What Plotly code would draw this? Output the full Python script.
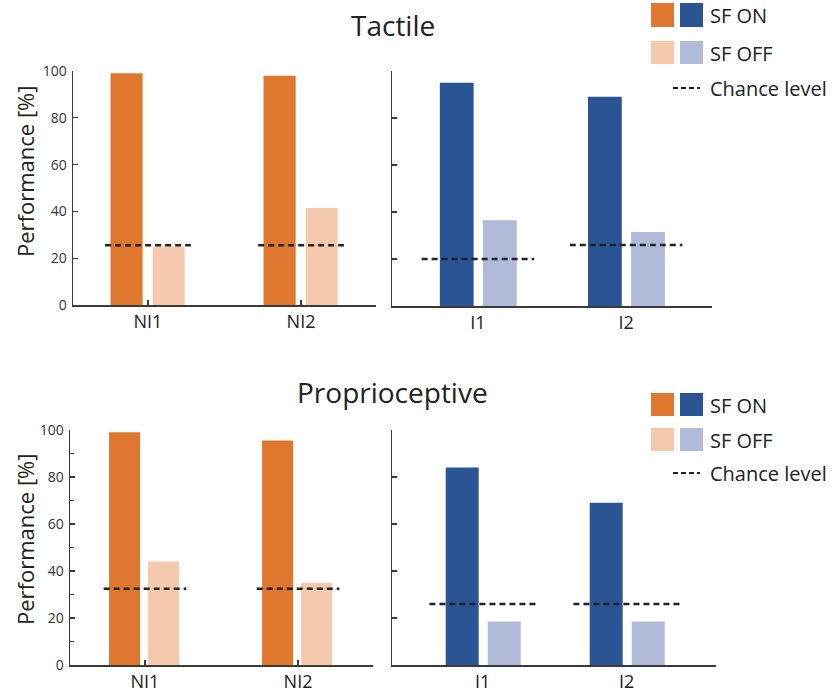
import plotly.graph_objects as go

W, H = 832, 695

# ---------------- data ----------------
left_categories = ["NI1", "NI2"]
right_categories = ["I1", "I2"]

tactile_left_on = [99, 98]
tactile_left_off = [25, 41.5]
tactile_left_chance = [25.5, 25.5]
tactile_right_on = [95, 89]
tactile_right_off = [36.5, 31.5]
tactile_right_chance = [20, 26]

prop_left_on = [99, 95.5]
prop_left_off = [44, 35]
prop_left_chance = [32.5, 32.5]
prop_right_on = [84, 69]
prop_right_off = [18.5, 18.5]
prop_right_chance = [26, 26]

y_tickvals = [0, 20, 40, 60, 80, 100]
panel_titles = ["Tactile", "Proprioceptive"]
y_title = "Performance [%]"
legend_labels = ["SF ON", "SF OFF", "Chance level"]

# ---------------- styles ----------------
ORANGE = "#E0772F"
ORANGE_L = "#F5C9AE"
BLUE = "#2B5494"
BLUE_L = "#AFBBD8"
AXIS = "#3a3a3a"
TXT = "#222222"
FONT = "Open Sans"


def px_x(x):
    return x / W


def px_y(y):
    return 1 - y / H


panels = [
    dict(cats=left_categories, on=tactile_left_on, off=tactile_left_off, chance=tactile_left_chance,
         xd=(73, 376), yd=(71, 305), xr=(-0.49, 1.49), c_on=ORANGE, c_off=ORANGE_L,
         width=0.21, off_on=-0.245, off_off=0.03, half=0.28, labels=True, minor=False),
    dict(cats=right_categories, on=tactile_right_on, off=tactile_right_off, chance=tactile_right_chance,
         xd=(392, 712), yd=(71, 306), xr=(-0.58, 1.58), c_on=BLUE, c_off=BLUE_L,
         width=0.228, off_on=-0.257, off_off=0.034, half=0.38, labels=False, minor=False),
    dict(cats=left_categories, on=prop_left_on, off=prop_left_off, chance=prop_left_chance,
         xd=(70, 373), yd=(430, 665), xr=(-0.49, 1.49), c_on=ORANGE, c_off=ORANGE_L,
         width=0.203, off_on=-0.235, off_off=0.02, half=0.27, labels=True, minor=True),
    dict(cats=right_categories, on=prop_right_on, off=prop_right_off, chance=prop_right_chance,
         xd=(392, 716), yd=(430, 665), xr=(-0.63, 1.62), c_on=BLUE, c_off=BLUE_L,
         width=0.229, off_on=-0.257, off_off=0.035, half=0.37, labels=False, minor=False),
]

fig = go.Figure()
layout = dict(
    template="none",
    width=W, height=H, margin=dict(l=0, r=0, t=0, b=0, pad=0, autoexpand=False),
    paper_bgcolor="white", plot_bgcolor="white",
    showlegend=False, barmode="overlay",
    font=dict(family=FONT, color=TXT),
)
shapes = []
annotations = []

for i, p in enumerate(panels):
    n = "" if i == 0 else str(i + 1)
    xa, ya = "x" + n, "y" + n
    fig.add_trace(go.Bar(x=p["cats"], y=p["on"], xaxis=xa, yaxis=ya, width=p["width"],
                         offset=p["off_on"], marker=dict(color=p["c_on"], line=dict(width=0))))
    fig.add_trace(go.Bar(x=p["cats"], y=p["off"], xaxis=xa, yaxis=ya, width=p["width"],
                         offset=p["off_off"], marker=dict(color=p["c_off"], line=dict(width=0))))
    layout["xaxis" + n] = dict(
        domain=[px_x(p["xd"][0]), px_x(p["xd"][1])], anchor=ya, type="category",
        range=list(p["xr"]), showline=True, linecolor=AXIS, linewidth=1.5,
        ticks="inside" if p["labels"] else "", ticklen=5, tickwidth=1.5, tickcolor=AXIS,
        showgrid=False, zeroline=False, tickfont=dict(size=18, color=TXT, family=FONT),
        ticklabelstandoff=0, automargin=False, fixedrange=True,
    )
    ydef = dict(
        domain=[px_y(p["yd"][1]), px_y(p["yd"][0])], anchor=xa, range=[0, 100],
        tickvals=y_tickvals, showline=True, linecolor=AXIS, linewidth=1.5,
        ticks="inside", ticklen=5, tickwidth=1.2, tickcolor=AXIS,
        showticklabels=p["labels"], showgrid=False, zeroline=False,
        tickfont=dict(size=14, color="#333", family=FONT), ticklabelstandoff=2,
        automargin=False, fixedrange=True,
    )
    if p["minor"]:
        ydef["minor"] = dict(ticks="inside", dtick=10, ticklen=4, tickwidth=1.2, tickcolor=AXIS, showgrid=False)
    layout["yaxis" + n] = ydef
    for k, c in enumerate(p["chance"]):
        shapes.append(dict(type="line", xref=xa, yref=ya, x0=k - p["half"], x1=k + p["half"],
                           y0=c, y1=c, line=dict(color=TXT, width=2.5, dash="6px,4px")))


def note(text, x, y, size, **kw):
    d = dict(text=text, x=px_x(x), y=px_y(y), xref="paper", yref="paper", showarrow=False,
             xanchor="center", yanchor="middle", font=dict(size=size, color=TXT, family=FONT))
    d.update(kw)
    annotations.append(d)


# titles
note(panel_titles[0], 393, 25, 28)
note(panel_titles[1], 392, 392, 28)
# y titles
for yc in (172, 540):
    note(y_title, 25, yc, 22, textangle=-90)

# legends
for (r1, r2, r3) in [((3, 27), (41, 64), 88), ((393, 416), (428, 451), 473)]:
    for (ya0, ya1), (ca, cb), lab in [(r1, (ORANGE, BLUE), legend_labels[0]),
                                      (r2, (ORANGE_L, BLUE_L), legend_labels[1])]:
        shapes.append(dict(type="rect", xref="paper", yref="paper", x0=px_x(651), x1=px_x(674),
                           y0=px_y(ya1), y1=px_y(ya0), fillcolor=ca, line=dict(width=0)))
        shapes.append(dict(type="rect", xref="paper", yref="paper", x0=px_x(680), x1=px_x(703),
                           y0=px_y(ya1), y1=px_y(ya0), fillcolor=cb, line=dict(width=0)))
        note(lab, 708, (ya0 + ya1) / 2 + 1, 20, xanchor="left")
    shapes.append(dict(type="line", xref="paper", yref="paper", x0=px_x(673), x1=px_x(700),
                       y0=px_y(r3), y1=px_y(r3), line=dict(color=TXT, width=2, dash="5px,3px")))
    note(legend_labels[2], 708, r3, 20, xanchor="left")

layout["shapes"] = shapes
layout["annotations"] = annotations
fig.update_layout(**layout)
fig.write_html("out.html", config={"displayModeBar": False, "staticPlot": True},
               post_script="document.body.style.margin='0px';")
